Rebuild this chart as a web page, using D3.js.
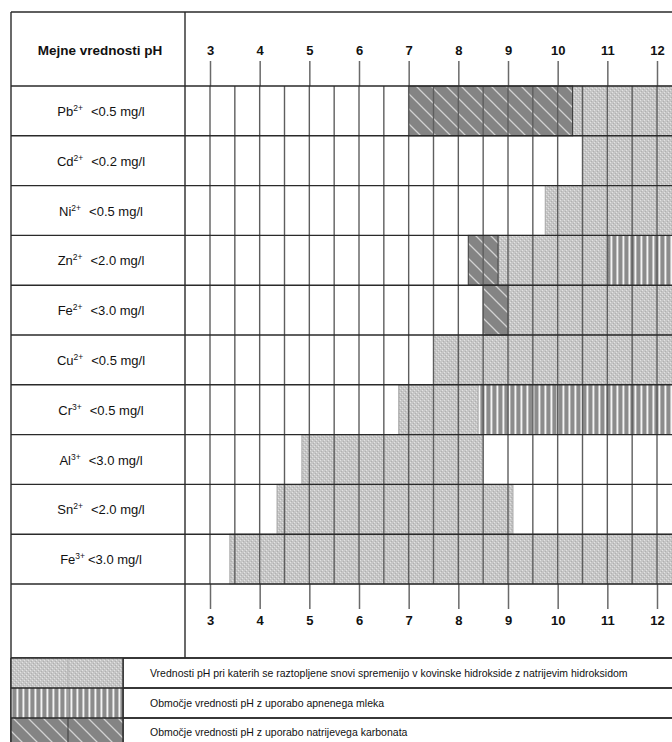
<!DOCTYPE html>
<html>
<head>
<meta charset="utf-8">
<script src="https://cdn.jsdelivr.net/npm/d3@7"></script>
<style>
  html, body { margin: 0; padding: 0; background: #fff; }
  svg { display: block; }
  text { font-family: "Liberation Sans", Arial, sans-serif; fill: #111; }
</style>
</head>
<body>
<svg id="chart" width="672" height="742"></svg>
<script>
// Metal ions, their discharge limits and the pH ranges of each precipitation method
const ions      = ["Pb", "Cd", "Ni", "Zn", "Fe", "Cu", "Cr", "Al", "Sn", "Fe"];
const charges   = ["2+", "2+", "2+", "2+", "2+", "2+", "3+", "3+", "2+", "3+"];
const limits    = ["<0.5 mg/l", "<0.2 mg/l", "<0.5 mg/l", "<2.0 mg/l", "<3.0 mg/l",
                   "<0.5 mg/l", "<0.5 mg/l", "<3.0 mg/l", "<2.0 mg/l", "<3.0 mg/l"];
const PH_MAX = 13;
// sodium hydroxide (grey)
const naohRanges = [[10.3, PH_MAX], [10.5, PH_MAX], [9.75, PH_MAX], [8.8, 11], [9, PH_MAX],
                    [7.5, PH_MAX], [6.8, 8.4], [4.85, 8.5], [4.35, 9.1], [3.4, PH_MAX]];
// lime milk (vertical stripes)
const limeRanges = [null, null, null, [11, PH_MAX], null, null, [8.4, PH_MAX], null, null, null];
// sodium carbonate (diagonal hatch)
const carbonateRanges = [[7, 10.3], null, null, [8.2, 8.8], [8.5, 9], null, null, null, null, null];
const phTicks = [3, 4, 5, 6, 7, 8, 9, 10, 11, 12];
const headerTitle = "Mejne vrednosti pH";
const legendLabels = [
  "Vrednosti pH pri katerih se raztopljene snovi spremenijo v kovinske hidrokside z natrijevim hidroksidom",
  "Območje vrednosti pH z uporabo apnenega mleka",
  "Območje vrednosti pH z uporabo natrijevega karbonata"
];

const W = 672, H = 742;
const svg = d3.select("#chart");
svg.append("rect").attr("width", W).attr("height", H).attr("fill", "#fff");

// table frame
const L = 11, T = 12, COL = 185, HEAD_B = 86, ROWS_B = 584, AXIS_B = 658;
const legendRows = [658, 688, 718, 748];
const SW_R = 123;

const x = d3.scaleLinear().domain([3, 12]).range([210, 657]);
const y = d3.scaleBand().domain(d3.range(ions.length)).range([HEAD_B, ROWS_B]);

// fill patterns
const defs = svg.append("defs");

const pNaoh = defs.append("pattern").attr("id", "naoh")
  .attr("patternUnits", "userSpaceOnUse").attr("width", 4).attr("height", 4);
pNaoh.append("rect").attr("width", 4).attr("height", 4).attr("fill", "#c6c6c6");
[[0, 0, "#e2e2e2"], [2, 2, "#e2e2e2"], [1, 3, "#b0b0b0"], [3, 1, "#b0b0b0"]].forEach(([px, py, c]) =>
  pNaoh.append("rect").attr("x", px).attr("y", py).attr("width", 1).attr("height", 1).attr("fill", c));

const pLime = defs.append("pattern").attr("id", "lime")
  .attr("patternUnits", "userSpaceOnUse").attr("width", 6).attr("height", 10);
pLime.append("rect").attr("width", 6).attr("height", 10).attr("fill", "#f4f4f4");
pLime.append("rect").attr("x", 0).attr("width", 1).attr("height", 10).attr("fill", "#b4b4b4");
pLime.append("rect").attr("x", 1).attr("width", 3).attr("height", 10).attr("fill", "#8c8c8c");
pLime.append("rect").attr("x", 4).attr("width", 1).attr("height", 10).attr("fill", "#c4c4c4");

const HS = 15;
const pCarb = defs.append("pattern").attr("id", "carb")
  .attr("patternUnits", "userSpaceOnUse").attr("width", HS).attr("height", HS);
pCarb.append("rect").attr("width", HS).attr("height", HS).attr("fill", "#848484");
pCarb.append("path")
  .attr("d", `M0,0L${HS},${HS}M-3,${HS - 3}L3,${HS + 3}M${HS - 3},-3L${HS + 3},3`)
  .attr("stroke", "#d2d2d2").attr("stroke-width", 1.3);

// bars
const bars = svg.append("g");
function drawRanges(ranges, fill, stroke) {
  ranges.forEach((r, i) => {
    if (!r) return;
    bars.append("rect")
      .attr("x", x(r[0])).attr("y", y(i))
      .attr("width", x(r[1]) - x(r[0])).attr("height", y.bandwidth())
      .attr("fill", fill)
      .attr("stroke", stroke).attr("stroke-width", stroke ? 1 : 0);
  });
}
drawRanges(naohRanges, "url(#naoh)", "#a6a6a6");
drawRanges(limeRanges, "url(#lime)", null);
drawRanges(carbonateRanges, "url(#carb)", "#3a3a3a");

// half-unit grid through the ion rows
svg.append("g").selectAll("line")
  .data(d3.range(3, PH_MAX + 0.01, 0.5))
  .join("line")
  .attr("x1", d => x(d)).attr("x2", d => x(d))
  .attr("y1", HEAD_B).attr("y2", ROWS_B)
  .attr("stroke", "#5e5e5e").attr("stroke-width", 1.4);

// pH axes above and below the rows
function styleAxis(g) {
  g.select(".domain").remove();
  g.selectAll(".tick line").attr("stroke", "#6a6a6a").attr("stroke-width", 1.5);
  g.selectAll(".tick text")
    .attr("fill", "#111")
    .style("font-family", '"Liberation Sans", Arial, sans-serif')
    .style("font-size", "13px").style("font-weight", "bold");
}
svg.append("g").attr("transform", `translate(0,${HEAD_B})`)
  .call(d3.axisTop(x).tickValues(phTicks).tickSize(25).tickPadding(6).tickFormat(d3.format("d")))
  .call(styleAxis);
svg.append("g").attr("transform", `translate(0,${ROWS_B})`)
  .call(d3.axisBottom(x).tickValues(phTicks).tickSize(25).tickPadding(7).tickFormat(d3.format("d")))
  .call(styleAxis);

// table rules
const rules = svg.append("g").attr("stroke", "#2a2a2a").attr("stroke-width", 1.4);
const hLines = [T, HEAD_B, ...d3.range(1, ions.length).map(i => y(i)), ROWS_B, ...legendRows.slice(0, 3)];
hLines.forEach(yy => rules.append("line").attr("x1", L).attr("x2", W).attr("y1", yy).attr("y2", yy));
rules.append("line").attr("x1", L).attr("x2", L).attr("y1", T).attr("y2", H);
rules.append("line").attr("x1", COL).attr("x2", COL).attr("y1", T).attr("y2", AXIS_B);
rules.append("line").attr("x1", SW_R).attr("x2", SW_R).attr("y1", legendRows[0]).attr("y2", H);

// header title
svg.append("text")
  .attr("x", 100).attr("y", 50).attr("dy", "0.35em")
  .attr("text-anchor", "middle")
  .style("font-size", "13.5px").style("font-weight", "bold")
  .text(headerTitle);

// row labels with superscript charges
ions.forEach((ion, i) => {
  const t = svg.append("text")
    .attr("x", 101).attr("y", y(i) + y.bandwidth() / 2 + 5)
    .attr("text-anchor", "middle")
    .style("font-size", "13px");
  t.append("tspan").text(ion);
  t.append("tspan").attr("dy", -5).style("font-size", "8.5px").text(charges[i]);
  t.append("tspan").attr("dy", 5).attr("dx", i === 9 ? 3 : 8).text(limits[i]);
});

// legend
const legendFills = ["url(#naoh)", "url(#lime)", "url(#carb)"];
legendFills.forEach((f, i) => {
  const y0 = legendRows[i], y1 = Math.min(legendRows[i + 1], H);
  svg.append("rect").attr("x", L).attr("y", y0).attr("width", SW_R - L).attr("height", y1 - y0)
    .attr("fill", f);
  svg.append("line").attr("x1", 68).attr("x2", 68).attr("y1", y0).attr("y2", y1)
    .attr("stroke", i === 2 ? "#3a3a3a" : "#b0b0b0").attr("stroke-width", 1);
  svg.append("text")
    .attr("x", 150).attr("y", (y0 + Math.min(legendRows[i + 1], 746)) / 2)
    .attr("dy", "0.35em")
    .style("font-size", "10.5px")
    .text(legendLabels[i]);
});
// redraw legend rules above the swatches
const lr = svg.append("g").attr("stroke", "#2a2a2a").attr("stroke-width", 1.4);
legendRows.slice(0, 3).forEach(yy => lr.append("line").attr("x1", L).attr("x2", W).attr("y1", yy).attr("y2", yy));
lr.append("line").attr("x1", L).attr("x2", L).attr("y1", legendRows[0]).attr("y2", H);
lr.append("line").attr("x1", SW_R).attr("x2", SW_R).attr("y1", legendRows[0]).attr("y2", H);
</script>
</body>
</html>
